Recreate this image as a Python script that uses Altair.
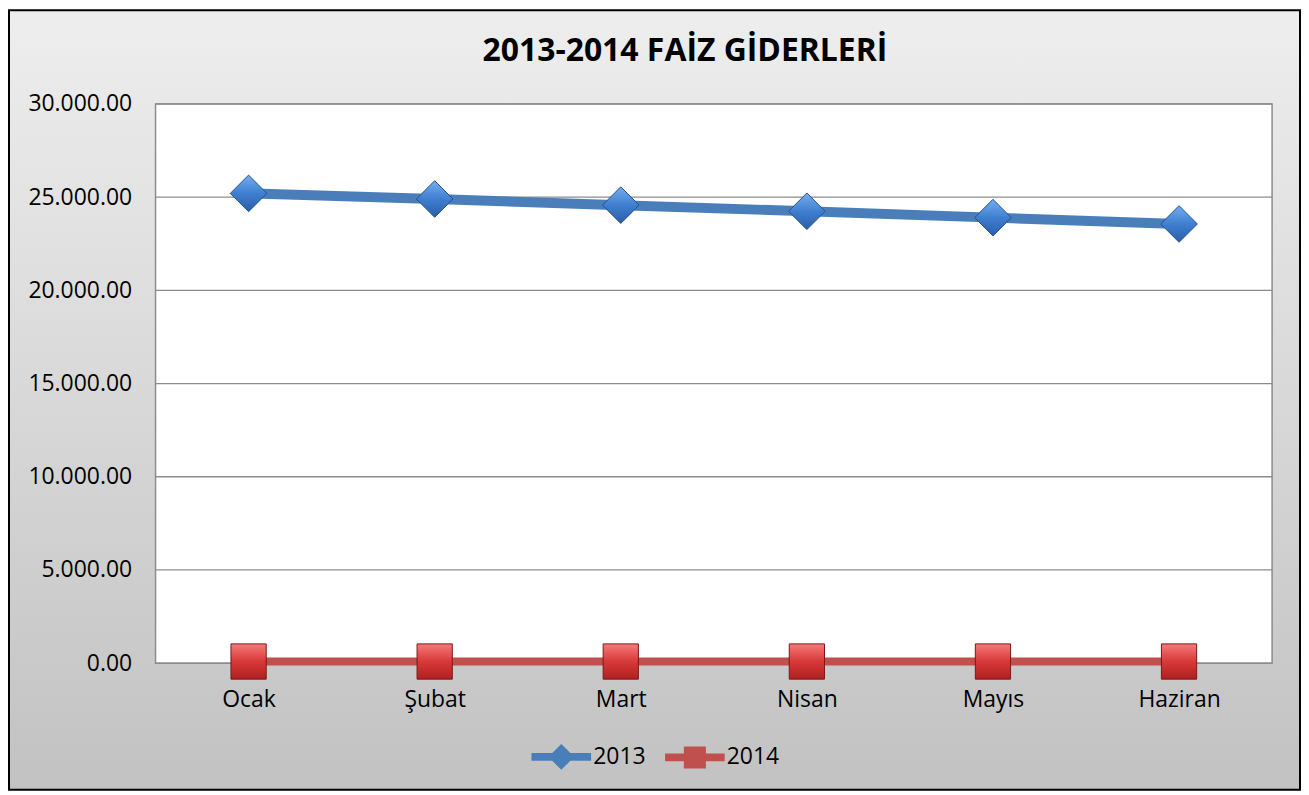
import altair as alt
import pandas as pd

# ---- data ----
months = ["Ocak", "Şubat", "Mart", "Nisan", "Mayıs", "Haziran"]
series = ["2013", "2014"]
values_2013 = [25200, 24900, 24570, 24240, 23900, 23560]
values_2014 = [90, 90, 90, 90, 90, 90]
y_ticks = [0, 5000, 10000, 15000, 20000, 25000, 30000]
title_text = "2013-2014 FAİZ GİDERLERİ"

df = pd.DataFrame({
    "month": months * 2,
    "year": ["2013"] * len(months) + ["2014"] * len(months),
    "value": values_2013 + values_2014,
})
grid_df = pd.DataFrame({"value": y_ticks})
one = pd.DataFrame({"a": [0]})
title_df = pd.DataFrame({"t": [title_text]})

# ---- layout ----
W, H = 1120, 561
PAD = {"left": 148, "top": 95, "right": 29, "bottom": 128}
FONT = "Open Sans"
BLUE = "#4a7ebb"
RED = "#c0504d"

x_enc = alt.X(
    "month:N", sort=months,
    scale=alt.Scale(type="point", padding=0.5),
    axis=alt.Axis(title=None, labelAngle=0, domain=False, ticks=False, grid=False,
                  labelFont=FONT, labelFontSize=23, labelColor="black",
                  labelPadding=25, zindex=1),
)
y_enc = alt.Y(
    "value:Q",
    scale=alt.Scale(domain=[0, 30000], nice=False),
    axis=alt.Axis(title=None, values=y_ticks, domain=False, ticks=False, grid=False,
                  labelExpr="replace(format(datum.value, ',.2f'), ',', '.')",
                  labelFont=FONT, labelFontSize=23, labelColor="black",
                  labelPadding=24, zindex=1),
)

bg_grad = alt.Gradient(
    gradient="linear",
    stops=[alt.GradientStop(color="#eeeeee", offset=0),
           alt.GradientStop(color="#c2c2c2", offset=1)],
    x1=0, x2=0, y1=0, y2=1,
)
blue_grad = alt.Gradient(
    gradient="linear",
    stops=[alt.GradientStop(color="#74aef0", offset=0),
           alt.GradientStop(color="#3f7fd0", offset=0.5),
           alt.GradientStop(color="#2a5ea8", offset=1)],
    x1=0, x2=0, y1=0, y2=1,
)
red_grad = alt.Gradient(
    gradient="linear",
    stops=[alt.GradientStop(color="#f47a7a", offset=0),
           alt.GradientStop(color="#d93838", offset=0.5),
           alt.GradientStop(color="#b02020", offset=1)],
    x1=0, x2=0, y1=0, y2=1,
)

background = alt.Chart(one).mark_rect(
    fill=bg_grad, stroke="black", strokeWidth=2
).encode(
    x=alt.value(-PAD["left"] + 1), x2=alt.value(W + PAD["right"] - 1),
    y=alt.value(-PAD["top"] + 1), y2=alt.value(H + PAD["bottom"] - 1),
)
plot_bg = alt.Chart(one).mark_rect(
    fill="white", stroke="#8c8c8c", strokeWidth=1.5
).encode(
    x=alt.value(0), x2=alt.value(W), y=alt.value(0), y2=alt.value(H),
)
title = alt.Chart(title_df).mark_text(
    font=FONT, fontSize=32, fontWeight="bold", color="black",
    align="center", baseline="alphabetic",
).encode(x=alt.value(531), y=alt.value(-43), text="t:N")

grid = alt.Chart(grid_df).mark_rule(color="#8c8c8c", strokeWidth=1.3).encode(y=y_enc)

line_2014 = alt.Chart(df).transform_filter("datum.year == '2014'").mark_line(
    color=RED, strokeWidth=8
).encode(x=x_enc, y=y_enc)
line_2013 = alt.Chart(df).transform_filter("datum.year == '2013'").mark_line(
    color=BLUE, strokeWidth=10
).encode(x=x_enc, y=y_enc)

pts_2013 = alt.Chart(df).transform_filter("datum.year == '2013'").mark_point(
    shape="diamond", filled=True, size=1350, fill=blue_grad,
    stroke="#24508a", strokeWidth=1, opacity=1,
).encode(x=x_enc, y=y_enc)
pts_2014 = alt.Chart(df).transform_filter("datum.year == '2014'").mark_point(
    shape="square", filled=True, size=1250, fill=red_grad,
    stroke="#7a1818", strokeWidth=1, opacity=1,
).encode(x=x_enc, y=y_enc)

path_2013 = ("M-2.3,-0.3L-0.7,-0.3L0,-1L0.7,-0.3L2.3,-0.3L2.3,0.3L0.7,0.3"
             "L0,1L-0.7,0.3L-2.3,0.3Z")
path_2014 = ("M-2.3,-0.3L-0.85,-0.3L-0.85,-0.85L0.85,-0.85L0.85,-0.3L2.3,-0.3"
             "L2.3,0.3L0.85,0.3L0.85,0.85L-0.85,0.85L-0.85,0.3L-2.3,0.3Z")

leg = alt.Legend(
    title=None, orient="none", legendX=394, legendY=642, direction="horizontal",
    symbolSize=676, symbolOpacity=1, symbolStrokeWidth=0,
    labelFont=FONT, labelFontSize=23, labelColor="black",
    labelOffset=19, columnPadding=19, padding=0,
)
legend_layer = alt.Chart(df).mark_point(filled=True, opacity=0, size=676).encode(
    x=x_enc, y=y_enc,
    color=alt.Color("year:N", scale=alt.Scale(domain=series, range=[BLUE, RED]), legend=leg),
    shape=alt.Shape("year:N", scale=alt.Scale(domain=series, range=[path_2013, path_2014]), legend=leg),
)

chart = alt.layer(
    background, plot_bg, title, grid, line_2014, line_2013, pts_2013, pts_2014, legend_layer
).properties(
    width=W, height=H,
    autosize=alt.AutoSizeParams(type="none"),
    padding=PAD,
).configure_view(strokeWidth=0)

chart.save("out.html", embed_options={"renderer": "svg", "actions": False})
